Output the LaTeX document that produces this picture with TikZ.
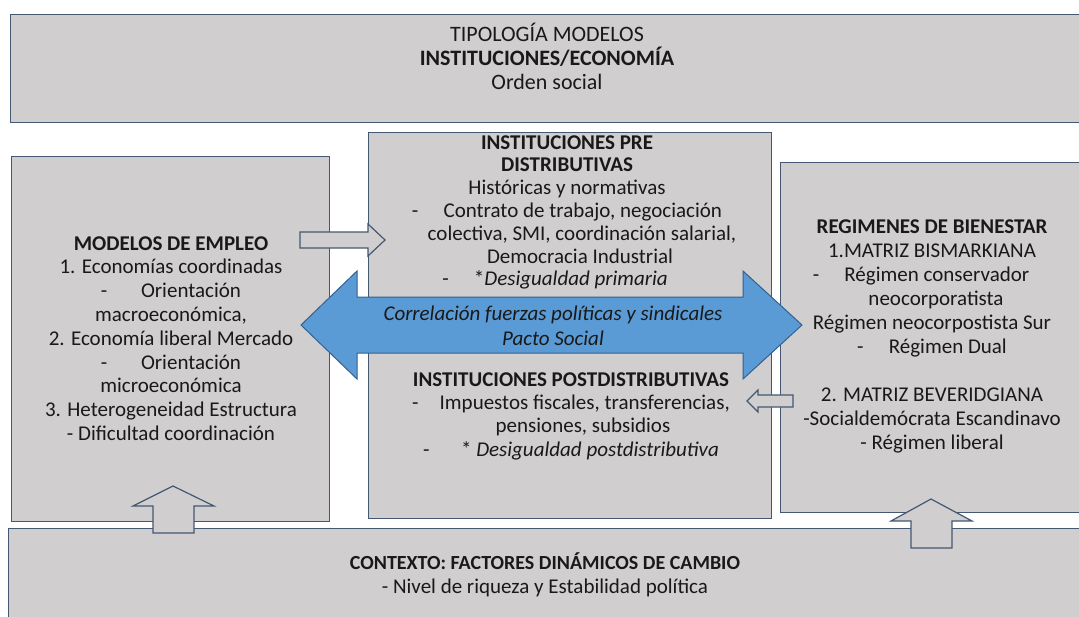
\documentclass[tikz,border=0pt]{standalone}
\usepackage{fontspec}
\setmainfont{Carlito}
\definecolor{boxfill}{RGB}{208,206,206}
\definecolor{boxline}{RGB}{68,88,116}
\definecolor{bluefill}{RGB}{91,155,213}
\definecolor{blueline}{RGB}{52,96,142}
\definecolor{txt}{RGB}{25,25,25}
\begin{document}
\begin{tikzpicture}[x=1pt,y=-1pt,
  panel/.style={draw=boxline, fill=boxfill, line width=1.4pt, anchor=north west, inner sep=0pt},
  blockarrow/.style={draw=boxline, fill=boxfill, line width=1.2pt, line join=miter},
  bigarrow/.style={draw=blueline, fill=bluefill, line width=1pt, line join=miter},
  label/.style={text=txt, align=center, inner sep=0pt, font=\fontsize{21}{23.8}\selectfont},
]
\useasboundingbox (0,0) rectangle (1079,616);
\clip (0,0) rectangle (1079,616);

% panels
\node[panel, minimum width=1080pt, minimum height=108pt] (top) at (10,14) {};
\node[panel, minimum width=318pt, minimum height=365pt] (empleo) at (11,156) {};
\node[panel, minimum width=403pt, minimum height=386pt] (inst) at (368,132) {};
\node[panel, minimum width=305pt, minimum height=350pt] (bien) at (780,162) {};
\node[panel, minimum width=1080pt, minimum height=100pt] (ctx) at (8,528) {};

% small block arrows
\coordinate (a1) at (300,240);
\draw[blockarrow] (a1) ++(0,-8) -- ++(68,0) -- ++(0,-8) -- ++(17,16) -- ++(-17,16) -- ++(0,-8) -- ++(-68,0) -- cycle;
\coordinate (a2) at (793,401);
\draw[blockarrow] (a2) ++(0,-6) -- ++(-35,0) -- ++(0,-5) -- ++(-11,11) -- ++(11,11) -- ++(0,-5) -- ++(35,0) -- cycle;
\coordinate (u1) at (173,486);
\draw[blockarrow] (u1) -- ++(41,20) -- ++(-20,0) -- ++(0,27) -- ++(-41,0) -- ++(0,-27) -- ++(-20,0) -- cycle;
\coordinate (u2) at (931,499);
\draw[blockarrow] (u2) -- ++(41,22) -- ++(-20,0) -- ++(0,27) -- ++(-41,0) -- ++(0,-27) -- ++(-20,0) -- cycle;

% big double arrow
\coordinate (bl) at (301,325);
\coordinate (br) at (802,325);
\draw[bigarrow] (bl) -- ++(56,-54) -- ++(0,26) -- ++(386,0) -- ++(0,-26) -- (br) -- ++(-59,54) -- ++(0,-26) -- ++(-386,0) -- ++(0,26) -- cycle;

% texts
\node[label, font=\fontsize{22}{24}\selectfont] (ttop) at (547,56) {TIPOLOGÍA MODELOS\\\textbf{INSTITUCIONES/ECONOMÍA}\\Orden social};
\node[label] (temp) at (171,338.5) {\textbf{MODELOS DE EMPLEO}\\1. Economías coordinadas\\-\hspace{1.6em}Orientación\\macroeconómica,\\2. Economía liberal Mercado\\-\hspace{1.6em}Orientación\\microeconómica\\3. Heterogeneidad Estructura\\- Dificultad coordinación};
\node[label, font=\fontsize{21}{22.8}\selectfont] (tpre) at (567,212.5) {\textbf{INSTITUCIONES PRE}\\\textbf{DISTRIBUTIVAS}\\Históricas y normativas\\-\hspace{1.2em}Contrato de trabajo, negociación\\\hspace*{30pt}colectiva, SMI, coordinación salarial,\\\hspace*{26pt}Democracia Industrial\\\hspace*{-24pt}-\hspace{1.2em}*\textit{Desigualdad primaria}};
\node[label, font=\fontsize{21}{23.3}\selectfont] (tpost) at (571,416) {\textbf{INSTITUCIONES POSTDISTRIBUTIVAS}\\-\hspace{1em}Impuestos fiscales, transferencias,\\\hspace*{24pt}pensiones, subsidios\\-\hspace{1.5em}* \textit{Desigualdad postdistributiva}};
\node[label, font=\fontsize{21}{24}\selectfont] (tbien) at (932,336.5) {\textbf{REGIMENES DE BIENESTAR}\\1.MATRIZ BISMARKIANA\\\hspace*{-22pt}-\hspace{1.2em}Régimen conservador\\\hspace*{8pt}neocorporatista\\Régimen neocorpostista Sur\\-\hspace{1.2em}Régimen Dual\\[24pt]2. MATRIZ BEVERIDGIANA\\-Socialdemócrata Escandinavo\\- Régimen liberal};
\node[label, font=\fontsize{21}{25}\selectfont\itshape] (tarrow) at (553,325.5) {Correlación fuerzas políticas y sindicales\\Pacto Social};
\node[label] (tctx) at (545,575) {\textbf{\fontsize{20}{23.8}\selectfont CONTEXTO: FACTORES DINÁMICOS DE CAMBIO}\\- Nivel de riqueza y Estabilidad política};
\end{tikzpicture}
\end{document}
